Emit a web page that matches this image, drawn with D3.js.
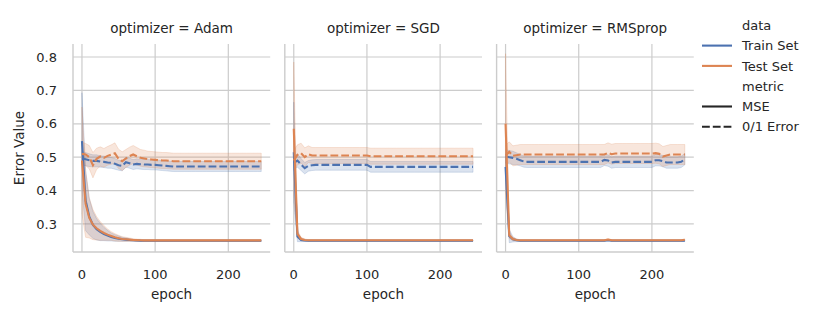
<!DOCTYPE html>
<html><head><meta charset="utf-8">
<script src="https://cdn.jsdelivr.net/npm/d3@7"></script>
<style>
body{margin:0;background:#fff}
svg{display:block}
text{font-family:"DejaVu Sans",sans-serif;fill:#262626}
</style>
</head><body><svg id="c" width="822" height="317"></svg>
<script>
// ---------------- data ----------------
const epochs = [0,5,10,15,20,25,30,35,40,45,50,55,60,65,70,75,80,85,90,95,
  100,105,110,115,120,125,130,135,140,145,150,155,160,165,170,175,180,185,190,195,
  200,205,210,215,220,225,230,235,240,245];
const optimizers = ["Adam","SGD","RMSprop"];
const dataSets = ["Train Set","Test Set"];
const metrics = ["MSE","0/1 Error"];
const xTicks = [0,100,200];
const yTicks = [0.3,0.4,0.5,0.6,0.7,0.8];
const yDomain = [0.216,0.839];

// Adam
const adamTrainMSE = [0.548,0.370,0.322,0.297,0.284,0.276,0.270,0.265,0.261,0.258,
  0.256,0.254,0.253,0.252,0.251,0.2505,0.250,0.2498,0.2496,0.2495,
  0.2495,0.2495,0.2495,0.2495,0.2495,0.2495,0.2495,0.2495,0.2495,0.2495,
  0.2495,0.2495,0.2495,0.2495,0.2495,0.2495,0.2495,0.2495,0.2495,0.2495,
  0.2495,0.2495,0.2495,0.2495,0.2495,0.2495,0.2495,0.2495,0.2495,0.2495];
const adamTrainMSECI = [0.145,0.090,0.055,0.040,0.032,0.026,0.020,0.016,0.012,0.010,
  0.008,0.006,0.005,0.004,0.003,0.003,0.002,0.002,0.002,0.002,
  0.002,0.002,0.002,0.002,0.002,0.002,0.002,0.002,0.002,0.002,
  0.002,0.002,0.002,0.002,0.002,0.002,0.002,0.002,0.002,0.002,
  0.002,0.002,0.002,0.002,0.002,0.002,0.002,0.002,0.002,0.002];
const adamTestMSE = [0.490,0.360,0.318,0.298,0.287,0.279,0.273,0.268,0.264,0.260,
  0.257,0.255,0.254,0.253,0.252,0.2515,0.251,0.2508,0.2508,0.2508,
  0.2508,0.2508,0.2508,0.2508,0.2508,0.2508,0.2508,0.2508,0.2508,0.2508,
  0.2508,0.2508,0.2508,0.2508,0.2508,0.2508,0.2508,0.2508,0.2508,0.2508,
  0.2508,0.2508,0.2508,0.2508,0.2508,0.2508,0.2508,0.2508,0.2508,0.2508];
const adamTestMSECI = [0.160,0.100,0.060,0.045,0.035,0.028,0.022,0.017,0.013,0.011,
  0.009,0.007,0.006,0.005,0.004,0.003,0.003,0.002,0.002,0.002,
  0.002,0.002,0.002,0.002,0.002,0.002,0.002,0.002,0.002,0.002,
  0.002,0.002,0.002,0.002,0.002,0.002,0.002,0.002,0.002,0.002,
  0.002,0.002,0.002,0.002,0.002,0.002,0.002,0.002,0.002,0.002];
const adamTrain01 = [0.497,0.494,0.491,0.489,0.489,0.487,0.486,0.484,0.483,0.480,
  0.476,0.474,0.485,0.482,0.478,0.480,0.479,0.478,0.478,0.477,
  0.477,0.476,0.475,0.474,0.473,0.472,0.472,0.472,0.472,0.472,
  0.472,0.472,0.472,0.472,0.472,0.472,0.472,0.472,0.472,0.472,
  0.472,0.472,0.472,0.472,0.472,0.472,0.472,0.472,0.472,0.472];
const adamTrain01CI = [0.020,0.020,0.019,0.018,0.018,0.017,0.017,0.017,0.016,0.016,
  0.015,0.015,0.015,0.015,0.015,0.015,0.015,0.015,0.015,0.015,
  0.015,0.015,0.015,0.015,0.015,0.015,0.015,0.015,0.015,0.015,
  0.015,0.015,0.015,0.015,0.015,0.015,0.015,0.015,0.015,0.015,
  0.015,0.015,0.015,0.015,0.015,0.015,0.015,0.015,0.015,0.015];
const adamTest01 = [0.510,0.508,0.500,0.476,0.495,0.502,0.498,0.504,0.508,0.512,
  0.495,0.488,0.496,0.503,0.508,0.503,0.498,0.496,0.494,0.493,
  0.492,0.491,0.490,0.490,0.489,0.488,0.488,0.488,0.488,0.488,
  0.488,0.488,0.488,0.488,0.488,0.488,0.488,0.488,0.488,0.488,
  0.488,0.488,0.488,0.488,0.488,0.488,0.488,0.488,0.488,0.488];
const adamTest01CI = [0.035,0.033,0.035,0.038,0.032,0.029,0.028,0.028,0.029,0.031,
  0.029,0.028,0.027,0.027,0.027,0.026,0.025,0.025,0.024,0.024,
  0.024,0.024,0.024,0.024,0.024,0.024,0.024,0.024,0.024,0.024,
  0.024,0.024,0.024,0.024,0.024,0.024,0.024,0.024,0.024,0.024,
  0.024,0.024,0.024,0.024,0.024,0.024,0.024,0.024,0.024,0.024];

// SGD
const sgdTrainMSE = [0.515,0.262,0.252,0.2505,0.2495,0.2495,0.2495,0.2495,0.2495,0.2495,
  0.2495,0.2495,0.2495,0.2495,0.2495,0.2495,0.2495,0.2495,0.2495,0.2495,
  0.2495,0.2495,0.2495,0.2495,0.2495,0.2495,0.2495,0.2495,0.2495,0.2495,
  0.2495,0.2495,0.2495,0.2495,0.2495,0.2495,0.2495,0.2495,0.2495,0.2495,
  0.2495,0.2495,0.2495,0.2495,0.2495,0.2495,0.2495,0.2495,0.2495,0.2495];
const sgdTrainMSECI = [0.150,0.015,0.005,0.003,0.002,0.002,0.002,0.002,0.002,0.002,
  0.002,0.002,0.002,0.002,0.002,0.002,0.002,0.002,0.002,0.002,
  0.002,0.002,0.002,0.002,0.002,0.002,0.002,0.002,0.002,0.002,
  0.002,0.002,0.002,0.002,0.002,0.002,0.002,0.002,0.002,0.002,
  0.002,0.002,0.002,0.002,0.002,0.002,0.002,0.002,0.002,0.002];
const sgdTestMSE = [0.585,0.270,0.255,0.252,0.251,0.251,0.251,0.251,0.251,0.251,
  0.251,0.251,0.251,0.251,0.251,0.251,0.251,0.251,0.251,0.251,
  0.251,0.251,0.251,0.251,0.251,0.251,0.251,0.251,0.251,0.251,
  0.251,0.251,0.251,0.251,0.251,0.251,0.251,0.251,0.251,0.251,
  0.251,0.251,0.251,0.251,0.251,0.251,0.251,0.251,0.251,0.251];
const sgdTestMSECI = [0.200,0.012,0.005,0.003,0.002,0.002,0.002,0.002,0.002,0.002,
  0.002,0.002,0.002,0.002,0.002,0.002,0.002,0.002,0.002,0.002,
  0.002,0.002,0.002,0.002,0.002,0.002,0.002,0.002,0.002,0.002,
  0.002,0.002,0.002,0.002,0.002,0.002,0.002,0.002,0.002,0.002,
  0.002,0.002,0.002,0.002,0.002,0.002,0.002,0.002,0.002,0.002];
const sgdTrain01 = [0.483,0.490,0.478,0.467,0.474,0.476,0.477,0.477,0.477,0.477,
  0.477,0.477,0.477,0.477,0.477,0.477,0.477,0.477,0.477,0.477,
  0.477,0.471,0.471,0.471,0.471,0.471,0.471,0.471,0.471,0.471,
  0.471,0.471,0.471,0.471,0.471,0.471,0.471,0.471,0.471,0.471,
  0.471,0.471,0.471,0.471,0.471,0.471,0.471,0.471,0.471,0.471];
const sgdTrain01CI = [0.020,0.020,0.018,0.017,0.016,0.016,0.016,0.016,0.016,0.016,
  0.016,0.016,0.016,0.016,0.016,0.016,0.016,0.016,0.016,0.016,
  0.016,0.016,0.016,0.016,0.016,0.016,0.016,0.016,0.016,0.016,
  0.016,0.016,0.016,0.016,0.016,0.016,0.016,0.016,0.016,0.016,
  0.016,0.016,0.016,0.016,0.016,0.016,0.016,0.016,0.016,0.016];
const sgdTest01 = [0.490,0.507,0.512,0.500,0.509,0.505,0.505,0.505,0.505,0.505,
  0.505,0.505,0.505,0.505,0.505,0.505,0.505,0.505,0.505,0.505,
  0.505,0.503,0.503,0.503,0.503,0.503,0.503,0.503,0.503,0.503,
  0.503,0.503,0.503,0.503,0.503,0.503,0.503,0.503,0.503,0.503,
  0.503,0.503,0.503,0.503,0.503,0.503,0.503,0.503,0.503,0.503];
const sgdTest01CI = [0.030,0.030,0.030,0.028,0.025,0.024,0.024,0.024,0.024,0.024,
  0.024,0.024,0.024,0.024,0.024,0.024,0.024,0.024,0.024,0.024,
  0.024,0.024,0.024,0.024,0.024,0.024,0.024,0.024,0.024,0.024,
  0.024,0.024,0.024,0.024,0.024,0.024,0.024,0.024,0.024,0.024,
  0.024,0.024,0.024,0.024,0.024,0.024,0.024,0.024,0.024,0.024];

// RMSprop
const rmsTrainMSE = [0.471,0.264,0.254,0.251,0.2495,0.2495,0.2495,0.2495,0.2495,0.2495,
  0.2495,0.2495,0.2495,0.2495,0.2495,0.2495,0.2495,0.2495,0.2495,0.2495,
  0.2495,0.2495,0.2495,0.2495,0.2495,0.2495,0.2495,0.2495,0.2515,0.2495,
  0.2495,0.2495,0.2495,0.2495,0.2495,0.2495,0.2495,0.2495,0.2495,0.2495,
  0.2495,0.2495,0.2495,0.2495,0.2495,0.2495,0.2495,0.2495,0.2495,0.2495];
const rmsTrainMSECI = [0.030,0.020,0.008,0.004,0.002,0.002,0.002,0.002,0.002,0.002,
  0.002,0.002,0.002,0.002,0.002,0.002,0.002,0.002,0.002,0.002,
  0.002,0.002,0.002,0.002,0.002,0.002,0.002,0.002,0.002,0.002,
  0.002,0.002,0.002,0.002,0.002,0.002,0.002,0.002,0.002,0.002,
  0.002,0.002,0.002,0.002,0.002,0.002,0.002,0.002,0.002,0.002];
const rmsTestMSE = [0.600,0.266,0.255,0.252,0.251,0.251,0.251,0.251,0.251,0.251,
  0.251,0.251,0.251,0.251,0.251,0.251,0.251,0.251,0.251,0.251,
  0.251,0.251,0.251,0.251,0.251,0.251,0.251,0.251,0.2535,0.251,
  0.251,0.251,0.251,0.251,0.251,0.251,0.251,0.251,0.251,0.251,
  0.251,0.251,0.251,0.251,0.251,0.251,0.251,0.251,0.251,0.2525];
const rmsTestMSECI = [0.210,0.010,0.005,0.003,0.002,0.002,0.002,0.002,0.002,0.002,
  0.002,0.002,0.002,0.002,0.002,0.002,0.002,0.002,0.002,0.002,
  0.002,0.002,0.002,0.002,0.002,0.002,0.002,0.002,0.002,0.002,
  0.002,0.002,0.002,0.002,0.002,0.002,0.002,0.002,0.002,0.002,
  0.002,0.002,0.002,0.002,0.002,0.002,0.002,0.002,0.002,0.002];
const rmsTrain01 = [0.502,0.500,0.498,0.495,0.491,0.487,0.486,0.486,0.486,0.486,
  0.486,0.486,0.486,0.486,0.486,0.486,0.486,0.486,0.486,0.486,
  0.486,0.486,0.486,0.486,0.486,0.486,0.486,0.492,0.490,0.484,
  0.486,0.486,0.486,0.486,0.486,0.486,0.486,0.486,0.486,0.486,
  0.486,0.491,0.491,0.488,0.484,0.484,0.484,0.484,0.486,0.494];
const rmsTrain01CI = [0.020,0.020,0.020,0.018,0.017,0.017,0.017,0.017,0.017,0.017,
  0.017,0.017,0.017,0.017,0.017,0.017,0.017,0.017,0.017,0.017,
  0.017,0.017,0.017,0.017,0.017,0.017,0.017,0.017,0.017,0.017,
  0.017,0.017,0.017,0.017,0.017,0.017,0.017,0.017,0.017,0.017,
  0.017,0.017,0.017,0.017,0.017,0.017,0.017,0.017,0.017,0.017];
const rmsTest01 = [0.505,0.516,0.504,0.506,0.508,0.508,0.508,0.508,0.508,0.508,
  0.508,0.508,0.508,0.508,0.508,0.508,0.508,0.508,0.508,0.508,
  0.508,0.508,0.508,0.508,0.508,0.508,0.508,0.508,0.513,0.509,
  0.511,0.511,0.511,0.511,0.511,0.511,0.511,0.511,0.511,0.511,
  0.511,0.512,0.510,0.502,0.505,0.508,0.508,0.508,0.508,0.508];
const rmsTest01CI = [0.030,0.030,0.030,0.030,0.030,0.030,0.030,0.030,0.030,0.030,
  0.030,0.030,0.030,0.030,0.030,0.030,0.030,0.030,0.030,0.030,
  0.030,0.030,0.030,0.030,0.030,0.030,0.030,0.030,0.030,0.030,
  0.030,0.030,0.030,0.030,0.030,0.030,0.030,0.030,0.030,0.030,
  0.030,0.030,0.030,0.030,0.030,0.030,0.030,0.030,0.030,0.030];

// ---------------- assemble ----------------
const seriesTable = {
  "Adam": [[adamTrainMSE,adamTrainMSECI],[adamTrain01,adamTrain01CI],[adamTestMSE,adamTestMSECI],[adamTest01,adamTest01CI]],
  "SGD": [[sgdTrainMSE,sgdTrainMSECI],[sgdTrain01,sgdTrain01CI],[sgdTestMSE,sgdTestMSECI],[sgdTest01,sgdTest01CI]],
  "RMSprop": [[rmsTrainMSE,rmsTrainMSECI],[rmsTrain01,rmsTrain01CI],[rmsTestMSE,rmsTestMSECI],[rmsTest01,rmsTest01CI]]
};
const combos = [["Train Set","MSE"],["Train Set","0/1 Error"],["Test Set","MSE"],["Test Set","0/1 Error"]];

const color = d3.scaleOrdinal().domain(dataSets).range(["#4c72b0","#dd8452"]);
const dash = d3.scaleOrdinal().domain(metrics).range([null,"7.8,3"]);

(function draw(){
const svg = d3.select("#c");
const topY = 44, bottomY = 252, left0 = 73, panelW = 197.2, gap = 14.6;
const xPad = (d3.max(epochs)-d3.min(epochs))*0.05;
const y = d3.scaleLinear().domain(yDomain).range([bottomY, topY]);
const gridC = "#cccccc";
const lw = 2.1;

optimizers.forEach((opt, pi) => {
  const L = left0 + pi*(panelW+gap);
  const x = d3.scaleLinear().domain([d3.min(epochs)-xPad, d3.max(epochs)+xPad]).range([L, L+panelW]);
  const g = svg.append("g");
  g.selectAll(".hg").data(yTicks).join("line")
    .attr("x1", L).attr("x2", L+panelW).attr("y1", d=>y(d)).attr("y2", d=>y(d))
    .attr("stroke", gridC).attr("stroke-width", 1.2);
  g.selectAll(".vg").data(xTicks).join("line")
    .attr("x1", d=>x(d)).attr("x2", d=>x(d)).attr("y1", topY).attr("y2", bottomY)
    .attr("stroke", gridC).attr("stroke-width", 1.2);
  g.append("line").attr("x1", L).attr("x2", L).attr("y1", topY).attr("y2", bottomY)
    .attr("stroke", gridC).attr("stroke-width", 1.4);
  g.append("line").attr("x1", L).attr("x2", L+panelW).attr("y1", bottomY).attr("y2", bottomY)
    .attr("stroke", gridC).attr("stroke-width", 1.4);
  g.selectAll(".xt").data(xTicks).join("text")
    .attr("x", d=>x(d)).attr("y", 279).attr("text-anchor","middle")
    .attr("font-size", 13).text(d=>d3.format("d")(d));
  if (pi === 0) {
    g.selectAll(".yt").data(yTicks).join("text")
      .attr("x", 57).attr("y", d=>y(d)).attr("dy","0.36em").attr("text-anchor","end")
      .attr("font-size", 13).text(d=>d3.format(".1f")(d));
  }
  g.append("text").attr("x", L+panelW/2).attr("y", 33).attr("text-anchor","middle")
    .attr("font-size", 13.5).text("optimizer = " + opt);
  g.append("text").attr("x", L+panelW/2).attr("y", 299).attr("text-anchor","middle")
    .attr("font-size", 13.5).text("epoch");

  const rows = seriesTable[opt].map((pair, k) => ({
    data: combos[k][0], metric: combos[k][1],
    pts: epochs.map((e,i)=>({e, m: pair[0][i], c: pair[1][i]}))
  }));
  const area = d3.area().x(d=>x(d.e)).y0(d=>y(d.m-d.c)).y1(d=>y(d.m+d.c));
  const line = d3.line().x(d=>x(d.e)).y(d=>y(d.m));
  rows.forEach(r => {
    g.append("path").attr("d", area(r.pts))
      .attr("fill", color(r.data)).attr("fill-opacity", 0.2)
      .attr("stroke", color(r.data)).attr("stroke-opacity", 0.2).attr("stroke-width", 1);
  });
  rows.forEach(r => {
    g.append("path").attr("d", line(r.pts))
      .attr("fill","none").attr("stroke", color(r.data)).attr("stroke-width", lw)
      .attr("stroke-dasharray", dash(r.metric));
  });
});

svg.append("text").attr("transform","translate(24,148) rotate(-90)")
  .attr("text-anchor","middle").attr("font-size",13.5).text("Error Value");

const leg = svg.append("g");
const legItems = [
  {label:"data", title:true},
  {label:"Train Set", color: color("Train Set"), dash: null},
  {label:"Test Set", color: color("Test Set"), dash: null},
  {label:"metric", title:true},
  {label:"MSE", color:"#262626", dash: dash("MSE")},
  {label:"0/1 Error", color:"#262626", dash: dash("0/1 Error")}
];
legItems.forEach((it, i) => {
  const yy = 25.3 + i*20.3;
  if (!it.title) {
    leg.append("line").attr("x1",702).attr("x2",732).attr("y1",yy).attr("y2",yy)
      .attr("stroke", it.color).attr("stroke-width",lw).attr("stroke-dasharray", it.dash);
  }
  leg.append("text").attr("x",742).attr("y",yy).attr("dy","0.36em")
    .attr("font-size",13).text(it.label);
});
})();
</script>
</body></html>
